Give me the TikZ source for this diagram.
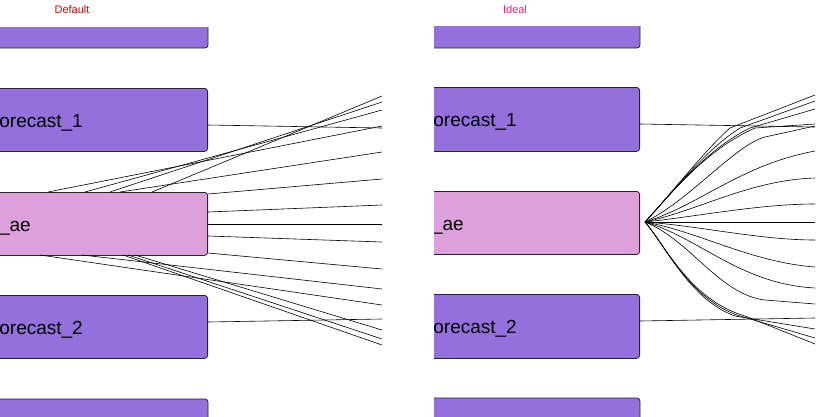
\documentclass[tikz,border=0pt]{standalone}
\usepackage{fontspec}
\setmainfont{Liberation Sans}
\begin{document}
\begin{tikzpicture}[x=1pt,y=-1pt,
  box/.style={draw=black!85,line width=0.8pt,rounded corners=3pt,fill=boxp,inner sep=0pt},
  pbox/.style={box,fill=boxpink},
  lab/.style={font=\fontsize{19}{20}\selectfont,anchor=base east,inner sep=0pt},
  ttl/.style={font=\fontsize{11}{12}\selectfont,text=red!85!black,inner sep=0pt},
  ln/.style={line width=0.6pt,black}]
\definecolor{boxp}{HTML}{9370DB}
\definecolor{boxpink}{HTML}{DDA0DD}
\useasboundingbox (0,0) rectangle (817,416);
\node[ttl] (t1) at (72,10) {Default};
\node[ttl,text=red!60!magenta!90] (t2) at (515,10) {Ideal};
% ---------- left panel
\begin{scope}
\clip (0,27.5) rectangle (382,416);
\draw[box] (-120,10) rectangle (208,48);
\node[box,minimum width=328,minimum height=63,anchor=north east] (f1) at (208,88) {};
\node[pbox,minimum width=328,minimum height=63,anchor=north east] (ae) at (208,192) {};
\node[box,minimum width=328,minimum height=63,anchor=north east] (f2) at (208,295) {};
\draw[box] (-120,399) rectangle (208,440);
\node[lab] (l1) at (83,127) {forecast\_1};
\node[lab] (l2) at (31,231) {\_ae};
\node[lab] (l3) at (83,334) {forecast\_2};
\foreach \a/\b in {48/126,85/110,110/102,120/152,152/96}
  \draw[ln] (\a,192) -- (382,\b);
\foreach \a/\b in {194/179,212/205,224/224,236/242,253/269}
  \draw[ln] (208,\a) -- (382,\b);
\foreach \a/\b in {40/305,82/289,123/345,128/339,135/330}
  \draw[ln] (\a,255) -- (382,\b);
\draw[ln] (208,125) -- (382,128);
\draw[ln] (208,322) -- (382,319);
\end{scope}
% ---------- right panel
\begin{scope}
\clip (434,26.5) rectangle (815,416);
\draw[box] (300,10) rectangle (640,48);
\node[box,minimum width=340,minimum height=64,anchor=north east] (g1) at (640,87) {};
\node[pbox,minimum width=340,minimum height=63,anchor=north east] (ge) at (640,191) {};
\node[box,minimum width=340,minimum height=64,anchor=north east] (g2) at (640,294) {};
\draw[box] (300,398) rectangle (640,440);
\node[lab] (m1) at (517,126) {forecast\_1};
\node[lab] (m2) at (464,230) {\_ae};
\node[lab] (m3) at (517,333) {forecast\_2};
\coordinate (o) at (645,222);
\draw[ln] (640,124) -- (815,127);
\draw[ln] (640,321) -- (815,318);
\foreach \b/\c in {95/730,101/740,109/750,124/755}
  \draw[ln] (o) .. controls (670,195) and (705,150) .. (\c,128) -- (815,\b);
\draw[ln] (o) .. controls (690,200) and (735,145) .. (765,137) -- (815,126);
\draw[ln] (o) .. controls (700,205) and (740,165) .. (815,151);
\draw[ln] (o) .. controls (700,210) and (750,180) .. (815,178);
\draw[ln] (o) .. controls (700,216) and (760,204) .. (815,204);
\draw[ln] (o) -- (815,222);
\draw[ln] (o) .. controls (700,226) and (760,240) .. (815,240);
\draw[ln] (o) .. controls (700,232) and (750,262) .. (815,267);
\draw[ln] (o) .. controls (700,238) and (740,284) .. (815,288);
\draw[ln] (o) .. controls (690,240) and (720,295) .. (765,300) -- (815,304);
\foreach \b/\c in {329/735,338/740,344/745}
  \draw[ln] (o) .. controls (665,245) and (690,300) .. (\c,316) -- (815,\b);
\end{scope}
\end{tikzpicture}
\end{document}
